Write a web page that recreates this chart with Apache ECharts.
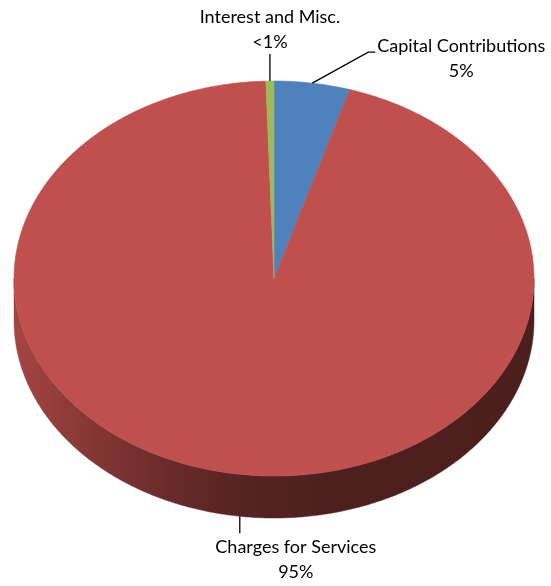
<!DOCTYPE html>
<html>
<head>
<meta charset="utf-8">
<script src="https://cdn.jsdelivr.net/npm/echarts@6/dist/echarts.min.js"></script>
<style>
  html, body { margin: 0; padding: 0; background: #ffffff; }
  #chart { width: 551px; height: 586px; }
</style>
</head>
<body>
<div id="chart"></div>
<script>
// Revenue sources, share of total (percent)
const categories = ['Capital Contributions', 'Charges for Services', 'Interest and Misc.'];
const shares = [4.7, 94.8, 0.5];
const sliceColors = ['#4F81BD', '#C0504D', '#9BBB59'];

const total = shares.reduce((a, b) => a + b, 0);
const startShares = shares.map((v, i) => shares.slice(0, i).reduce((a, b) => a + b, 0));

// Tilted disc: centre, radii of the top face, and wall thickness
const disc = { cx: 274, cy: 278.5, rx: 260, ry: 197.5, depth: 42 };

// Leader bends and label-block centre, relative to each slice's rim anchor
const labelLayout = [
  { path: [[56, -31], [63, -31]], text: [149, -24.5] },
  { path: [[0, 17]], text: [56, 43.5] },
  { path: [[0, -27]], text: [0, -51.5] }
];

const labelFont = '18px Lato';

function pctText(v) {
  const p = v / total * 100;
  return p < 1 ? '<1%' : Math.round(p) + '%';
}

// angle measured clockwise from 12 o'clock
function rimPoint(theta, dy) {
  return [disc.cx + disc.rx * Math.sin(theta), disc.cy - disc.ry * Math.cos(theta) + (dy || 0)];
}

function arc(a, b, dy) {
  const pts = [];
  const n = Math.max(2, Math.ceil(Math.abs(b - a) / (Math.PI / 360)));
  for (let k = 0; k <= n; k++) pts.push(rimPoint(a + (b - a) * k / n, dy));
  return pts;
}

// scale a hex colour's channels towards black
function shade(hex, f) {
  const n = parseInt(hex.slice(1), 16);
  const ch = [(n >> 16) & 255, (n >> 8) & 255, n & 255].map(c => Math.round(c * f));
  return 'rgb(' + ch.join(',') + ')';
}

function wallFill(color) {
  return {
    type: 'linear', x: 0, y: 0, x2: 1, y2: 0,
    colorStops: [
      { offset: 0, color: shade(color, 0.86) },
      { offset: 0.12, color: shade(color, 0.72) },
      { offset: 0.3, color: shade(color, 0.54) },
      { offset: 0.45, color: shade(color, 0.44) },
      { offset: 0.6, color: shade(color, 0.40) },
      { offset: 1, color: shade(color, 0.39) }
    ]
  };
}

function renderSlice(params, api) {
  const i = params.dataIndex;
  const v = api.value(0);
  const color = sliceColors[i];
  const a = startShares[i] / total * 2 * Math.PI;
  const b = a + v / total * 2 * Math.PI;
  const children = [];

  // front wall (only the near half of the rim is visible)
  const s = Math.max(a, Math.PI / 2);
  const e = Math.min(b, 1.5 * Math.PI);
  if (e > s) {
    children.push({
      type: 'polygon', z2: 1,
      shape: { points: arc(s, e, 0).concat(arc(e, s, disc.depth)) },
      style: { fill: wallFill(color), stroke: wallFill(color), lineWidth: 0.5 }
    });
  }

  // top face
  children.push({
    type: 'polygon', z2: 5,
    shape: { points: [[disc.cx, disc.cy]].concat(arc(a, b, 0)) },
    style: { fill: color, stroke: color, lineWidth: 0.6 }
  });

  // leader line and label
  const mid = (a + b) / 2;
  const anchor = rimPoint(mid, Math.cos(mid) < 0 ? disc.depth : 0);
  const lay = labelLayout[i];
  const linePts = [anchor].concat(lay.path.map(d => [anchor[0] + d[0], anchor[1] + d[1]]));
  children.push({
    type: 'polyline', z2: 10,
    shape: { points: linePts },
    style: { stroke: '#000000', lineWidth: 1.3, fill: null }
  });
  children.push({
    type: 'text', z2: 10,
    style: {
      text: categories[i] + '\n' + pctText(v),
      x: anchor[0] + lay.text[0],
      y: anchor[1] + lay.text[1],
      align: 'center',
      verticalAlign: 'middle',
      font: labelFont,
      lineHeight: 25,
      fill: '#000000'
    }
  });

  return { type: 'group', children: children };
}

const chart = echarts.init(document.getElementById('chart'), null, { renderer: 'canvas' });
chart.setOption({
  animation: false,
  backgroundColor: '#ffffff',
  series: [{
    type: 'custom',
    coordinateSystem: 'none',
    silent: true,
    dimensions: ['share'],
    renderItem: renderSlice,
    data: shares.map((v, i) => ({
      name: categories[i],
      value: [v],
      itemStyle: { color: sliceColors[i] }
    }))
  }]
});
</script>
</body>
</html>
